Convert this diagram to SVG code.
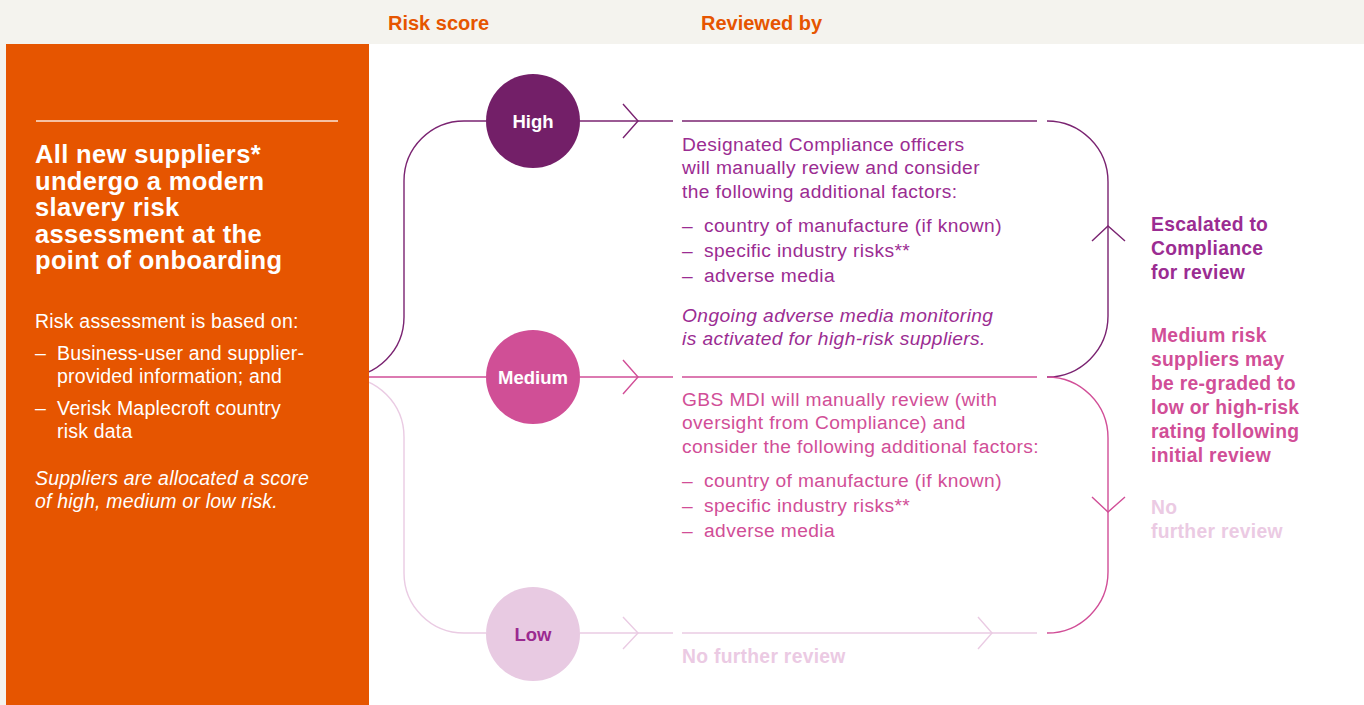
<svg xmlns="http://www.w3.org/2000/svg" width="1364" height="705" viewBox="0 0 1364 705">
  <style>
    text { font-family: "Liberation Sans", Arial, sans-serif; }
    .hdr { font-size: 20px; font-weight: bold; fill: #E65500; }
    .head { font-size: 25.5px; font-weight: bold; fill: #FFFFFF; letter-spacing: 0.35px; }
    .body { font-size: 19.5px; fill: #FFFFFF; letter-spacing: 0.2px; }
    .it { font-style: italic; }
    .circ { font-size: 18.5px; font-weight: bold; text-anchor: middle; }
    .rev { font-size: 19.2px; letter-spacing: 0.4px; }
    .lab { font-size: 19.3px; font-weight: bold; letter-spacing: 0.3px; }
    .c-high { fill: #9B2C92; }
    .c-med { fill: #D14E97; }
    .c-low { fill: #EBCAE3; }
    .ln { fill: none; stroke-width: 1.4; }
    .s-high { stroke: #7A2371; }
    .s-med { stroke: #D14E97; }
    .s-low { stroke: #EACBE3; }
  </style>

  <!-- background -->
  <rect x="0" y="0" width="1364" height="705" fill="#F4F3EE"/>
  <rect x="369" y="44" width="995" height="661" fill="#FFFFFF"/>

  <!-- column headers -->
  <text class="hdr" x="388" y="30">Risk score</text>
  <text class="hdr" x="701" y="30">Reviewed by</text>

  <!-- connectors -->
  <g id="connectors">
    <!-- left branches (start hidden under the orange panel) -->
    <path class="ln s-high" d="M 344 377 A 60 60 0 0 0 404 317 V 181 A 60 60 0 0 1 464 121 H 486"/>
    <path class="ln s-med" d="M 344 377 H 486"/>
    <path class="ln s-low" d="M 344 377 A 60 60 0 0 1 404 437 V 573 A 60 60 0 0 0 464 633 H 486"/>

    <!-- circle to review -->
    <path class="ln s-high" d="M 580 121 H 673"/>
    <polyline class="ln s-high" points="623,104 638,121 623,138"/>
    <path class="ln s-med" d="M 580 377 H 673"/>
    <polyline class="ln s-med" points="623,360 638,377 623,394"/>
    <path class="ln s-low" d="M 580 633 H 673"/>
    <polyline class="ln s-low" points="623,617 638,633 623,649"/>

    <!-- review rules -->
    <path class="ln s-high" d="M 682 121 H 1037"/>
    <path class="ln s-med" d="M 682 377 H 1037"/>
    <path class="ln s-low" d="M 682 633 H 1037"/>
    <polyline class="ln s-low" points="978,617 992,633 978,649"/>

    <!-- right outcome loops -->
    <path class="ln s-high" d="M 1047 121 A 61 61 0 0 1 1108 182 V 316 A 61 61 0 0 1 1047 377"/>
    <polyline class="ln s-high" points="1092,241 1108,226 1125,241"/>
    <path class="ln s-med" d="M 1047 377 A 61 61 0 0 1 1108 438 V 572 A 61 61 0 0 1 1047 633"/>
    <polyline class="ln s-med" points="1092,497 1108,512 1125,497"/>
  </g>

  <!-- intro panel -->
  <g id="node-intro">
    <rect x="6" y="44" width="363" height="661" fill="#E65500"/>
    <line x1="36" y1="121" x2="338" y2="121" stroke="#FFFFFF" stroke-opacity="0.85" stroke-width="1.4"/>
    <text class="head" x="35" y="163">All new suppliers*</text>
    <text class="head" x="35" y="190">undergo a modern</text>
    <text class="head" x="35" y="216">slavery risk</text>
    <text class="head" x="35" y="243">assessment at the</text>
    <text class="head" x="35" y="269">point of onboarding</text>
    <text class="body" x="35" y="328">Risk assessment is based on:</text>
    <text class="body" x="35" y="360">–</text>
    <text class="body" x="57" y="360">Business-user and supplier-</text>
    <text class="body" x="57" y="383">provided information; and</text>
    <text class="body" x="35" y="415">–</text>
    <text class="body" x="57" y="415">Verisk Maplecroft country</text>
    <text class="body" x="57" y="438">risk data</text>
    <text class="body it" x="35" y="485">Suppliers are allocated a score</text>
    <text class="body it" x="35" y="508">of high, medium or low risk.</text>
  </g>

  <!-- risk score circles -->
  <g id="node-high">
    <circle cx="533" cy="121" r="47" fill="#731F68"/>
    <text class="circ" x="533" y="128" fill="#FFFFFF">High</text>
  </g>
  <g id="node-medium">
    <circle cx="533" cy="377" r="47" fill="#D04F96"/>
    <text class="circ" x="533" y="384" fill="#FFFFFF">Medium</text>
  </g>
  <g id="node-low">
    <circle cx="533" cy="634" r="47" fill="#E8CAE2"/>
    <text class="circ" x="533" y="641" fill="#9B2A90">Low</text>
  </g>

  <!-- review blocks -->
  <g id="node-high-review">
    <text class="rev c-high" x="682" y="150.5">Designated Compliance officers</text>
    <text class="rev c-high" x="682" y="174">will manually review and consider</text>
    <text class="rev c-high" x="682" y="197.5">the following additional factors:</text>
    <text class="rev c-high" x="682" y="231.5">–</text>
    <text class="rev c-high" x="704" y="231.5">country of manufacture (if known)</text>
    <text class="rev c-high" x="682" y="257">–</text>
    <text class="rev c-high" x="704" y="257">specific industry risks**</text>
    <text class="rev c-high" x="682" y="282.3">–</text>
    <text class="rev c-high" x="704" y="282.3">adverse media</text>
    <text class="rev c-high it" x="682" y="321.7">Ongoing adverse media monitoring</text>
    <text class="rev c-high it" x="682" y="345">is activated for high-risk suppliers.</text>
  </g>
  <g id="node-medium-review">
    <text class="rev c-med" x="682" y="405.5">GBS MDI will manually review (with</text>
    <text class="rev c-med" x="682" y="429.3">oversight from Compliance) and</text>
    <text class="rev c-med" x="682" y="452.7">consider the following additional factors:</text>
    <text class="rev c-med" x="682" y="486.7">–</text>
    <text class="rev c-med" x="704" y="486.7">country of manufacture (if known)</text>
    <text class="rev c-med" x="682" y="512">–</text>
    <text class="rev c-med" x="704" y="512">specific industry risks**</text>
    <text class="rev c-med" x="682" y="537.3">–</text>
    <text class="rev c-med" x="704" y="537.3">adverse media</text>
  </g>
  <g id="node-low-review">
    <text class="lab c-low" x="682" y="663">No further review</text>
  </g>

  <!-- outcome labels -->
  <g id="node-escalated">
    <text class="lab c-high" x="1151" y="231">Escalated to</text>
    <text class="lab c-high" x="1151" y="255">Compliance</text>
    <text class="lab c-high" x="1151" y="279">for review</text>
  </g>
  <g id="node-regraded">
    <text class="lab c-med" x="1151" y="342">Medium risk</text>
    <text class="lab c-med" x="1151" y="366">suppliers may</text>
    <text class="lab c-med" x="1151" y="390">be re-graded to</text>
    <text class="lab c-med" x="1151" y="414">low or high-risk</text>
    <text class="lab c-med" x="1151" y="438">rating following</text>
    <text class="lab c-med" x="1151" y="462">initial review</text>
  </g>
  <g id="node-no-further">
    <text class="lab c-low" x="1151" y="514">No</text>
    <text class="lab c-low" x="1151" y="538">further review</text>
  </g>
</svg>
